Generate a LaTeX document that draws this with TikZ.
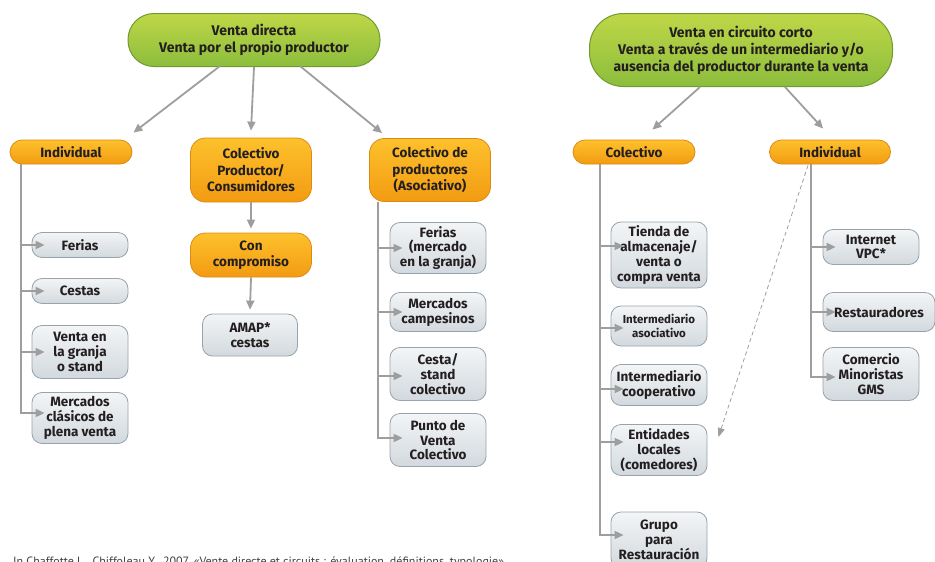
\documentclass[tikz,border=0pt]{standalone}
\usepackage{fontspec}
\setmainfont{Fira Sans}
\newfontfamily\footfont{PT Sans}
\usetikzlibrary{arrows.meta,calc}
\definecolor{txt}{HTML}{231F20}
\definecolor{gtop}{HTML}{BFD747}
\definecolor{gbot}{HTML}{8CBD3D}
\definecolor{gdr}{HTML}{6F9B30}
\definecolor{otop}{HTML}{FDC12C}
\definecolor{obot}{HTML}{F39B12}
\definecolor{odr}{HTML}{DD8A14}
\definecolor{stop}{HTML}{F3F5F6}
\definecolor{sbot}{HTML}{D2D9DE}
\definecolor{sdr}{HTML}{98A3AB}
\definecolor{conn}{HTML}{9E9E9E}
\tikzset{
  base/.style={font=\bfseries\fontsize{13.5}{14.8}\selectfont, text=txt, align=center, inner sep=1pt},
  greenbox/.style={base, font=\bfseries\fontsize{14}{17}\selectfont, top color=gtop, bottom color=gbot, draw=gdr, line width=1pt, rounded corners=26pt},
  orangebox/.style={base, font=\bfseries\fontsize{13.5}{16.5}\selectfont, top color=otop, bottom color=obot, draw=odr, line width=0.8pt, rounded corners=12pt},
  graybox/.style={base, top color=stop, bottom color=sbot, draw=sdr, line width=0.8pt, rounded corners=10pt, minimum width=96pt},
  arr/.style={draw=conn, line width=1.8pt, -{Triangle[length=9pt,width=8pt]}},
  dasharr/.style={draw=conn, line width=0.8pt, dash pattern=on 4pt off 3pt, -{Triangle[length=9pt,width=7pt]}}
}
\begin{document}
\begin{tikzpicture}[x=1pt,y=-1pt]
\useasboundingbox (0,0) rectangle (935,562);
% top level
\node[greenbox, minimum width=252pt, minimum height=53pt] (gL) at (254,40) {Venta directa\\Venta por el propio productor};
\node[greenbox, rounded corners=34pt, minimum width=303pt, minimum height=73pt] (gR) at (741,50) {Venta en circuito corto\\Venta a trav\'es de un intermediario y/o\\ausencia del productor durante la venta};
% second level
\node[orangebox, minimum width=122pt, minimum height=24pt] (indL) at (71,152) {Individual};
\node[orangebox, rounded corners=15pt, minimum width=121pt, minimum height=64pt] (cpc) at (251,170) {Colectivo\\Productor/\\Consumidores};
\node[orangebox, rounded corners=15pt, minimum width=121pt, minimum height=44pt] (con) at (251,255) {Con\\compromiso};
\node[orangebox, rounded corners=15pt, minimum width=121pt, minimum height=63pt] (cdp) at (430,170) {Colectivo de\\productores\\(Asociativo)};
\node[orangebox, minimum width=122pt, minimum height=24pt] (colR) at (634,152) {Colectivo};
\node[orangebox, minimum width=121pt, minimum height=24pt] (indR) at (830,152) {Individual};
% gray boxes
\node[graybox, minimum width=95pt, minimum height=42pt] (amap) at (250,335) {AMAP*\\cestas};
\node[graybox, minimum height=25pt] (ferL) at (80,245) {Ferias};
\node[graybox, minimum height=25pt] (cest) at (80,291) {Cestas};
\node[graybox, minimum height=53pt] (vgr) at (80,352) {Venta en\\la granja\\o stand};
\node[graybox, minimum height=51pt] (mcl) at (80,418) {Mercados\\cl\'asicos de\\plena venta};
\node[graybox, minimum height=51pt] (ferR) at (438,248) {Ferias\\(mercado\\en la granja)};
\node[graybox, minimum height=39pt] (mcam) at (438,312) {Mercados\\campesinos};
\node[graybox, minimum height=53pt] (csc) at (438,374) {Cesta/\\stand\\colectivo};
\node[graybox, minimum height=53pt] (pvc) at (438,440) {Punto de\\Venta\\Colectivo};
\node[graybox, minimum height=66pt] (tie) at (659,255) {Tienda de\\almacenaje/\\venta o\\compra venta};
\node[graybox, minimum height=40pt, font=\bfseries\fontsize{11.5}{14}\selectfont] (ias) at (659,326) {Intermediario\\asociativo};
\node[graybox, minimum height=41pt] (ico) at (659,385) {Intermediario\\cooperativo};
\node[graybox, minimum height=51pt] (ent) at (659,450) {Entidades\\locales\\(comedores)};
\node[graybox, minimum height=56pt] (gru) at (659,540) {Grupo\\para\\Restauraci\'on};
\node[graybox, minimum height=35pt] (inet) at (871,247) {Internet\\VPC*};
\node[graybox, minimum width=112pt, minimum height=39pt] (rest) at (879,312) {Restauradores};
\node[graybox, minimum height=53pt] (com) at (871,374) {Comercio\\Minoristas\\GMS};
% top arrows
\draw[arr] ($(gL.south)+(-34,-1)$) -- ($(indL.north east)+(1,-7)$);
\draw[arr] (gL.south) -- ($(cpc.north)+(0,-7)$);
\draw[arr] ($(gL.south)+(46,-1)$) -- ($(cdp.north west)+(13,-5)$);
\draw[arr] ($(gR.south)+(-41,0)$) -- ($(colR.north east)+(-43,-10)$);
\draw[arr] ($(gR.south)+(44,0)$) -- ($(indR.north west)+(54,-11)$);
\draw[arr] (cpc.south) -- ($(con.north)+(0,-4)$);
\draw[arr] (con.south) -- ($(amap.north)+(0,-4)$);
% trunks
\coordinate (tA) at (21,0);
\coordinate (tB) at (378,0);
\coordinate (tC) at (600,0);
\coordinate (tD) at (811,0);
\foreach \n/\dy in {ferL/0,cest/0,vgr/0,mcl/-5}
  \draw[arr] (tA |- indL.south) |- ($(\n.west)+(13,\dy)$);
\foreach \n/\dy in {ferR/0,mcam/0,csc/2,pvc/-2}
  \draw[arr] (tB |- cdp.south) |- ($(\n.west)+(13,\dy)$);
\foreach \n/\dy in {tie/-9,ias/2,ico/4,ent/-8,gru/-5}
  \draw[arr] (tC |- colR.south) |- ($(\n.west)+(13,\dy)$);
\foreach \n/\dy in {inet/0,rest/0,com/3}
  \draw[arr] (tD |- indR.south) |- ($(\n.west)+(13,\dy)$);
% dashed
\draw[dasharr] ($(indR.south)+(-22,1)$) -- ($(ent.east)+(11,-13)$);
% footer
\node[anchor=base west, inner sep=0pt, text=black!75, font=\footfont\fontsize{12}{13}\selectfont] (src) at (13,565) {In Chaffotte L., Chiffoleau Y., 2007, «Vente directe et circuits : \'evaluation, d\'efinitions, typologie»};
\end{tikzpicture}
\end{document}
